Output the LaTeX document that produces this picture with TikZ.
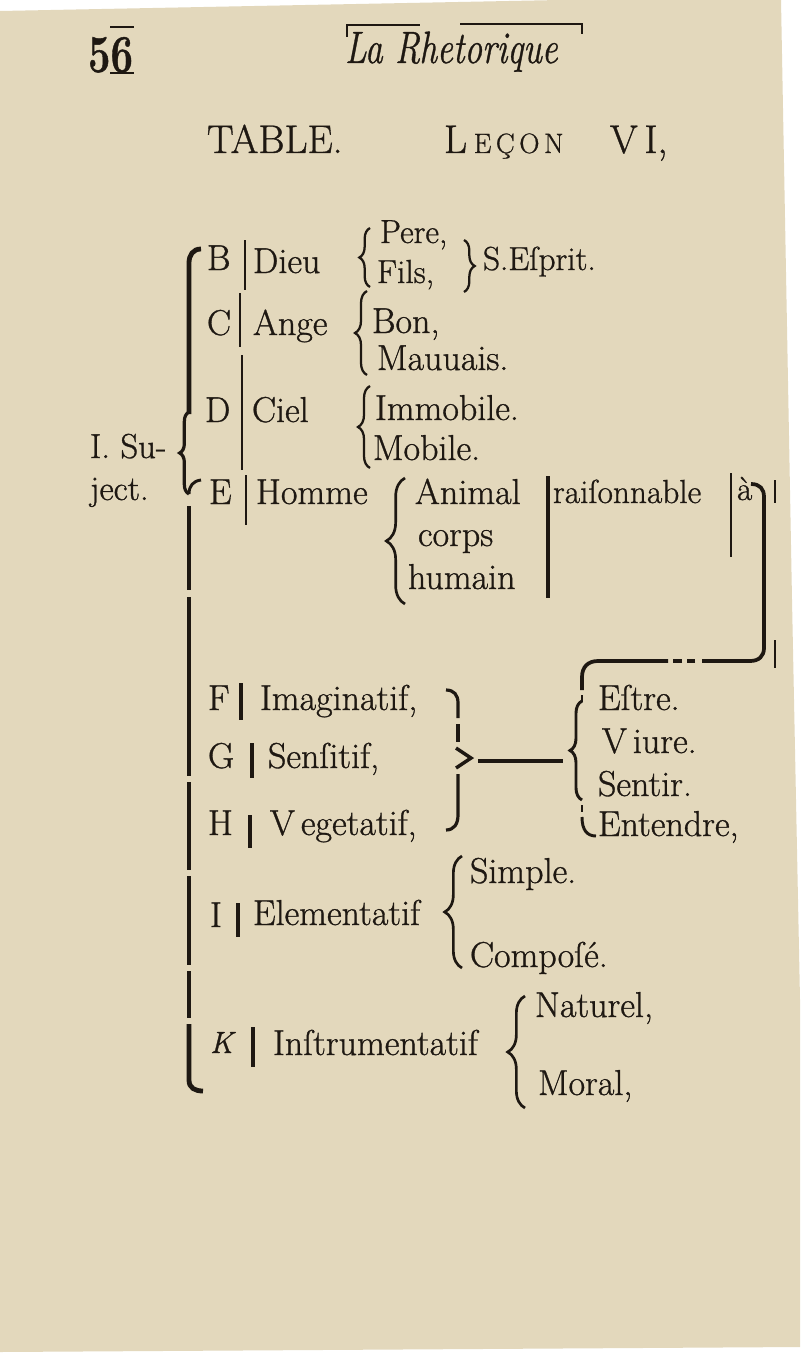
\documentclass[tikz,border=0pt]{standalone}
\usepackage{fontspec}
\setmainfont{Latin Modern Roman}[FakeBold=0.9]
\usetikzlibrary{decorations.pathreplacing}
\definecolor{paper}{RGB}{227,216,188}
\definecolor{ink}{RGB}{30,24,18}
\begin{document}
\begin{tikzpicture}[x=0.75pt,y=-0.75pt,
  t/.style={anchor=base west, inner sep=0pt, outer sep=0pt, text=ink, font=\fontsize{27}{30}\selectfont},
  ts/.style={t, font=\fontsize{25}{28}\selectfont},
  rule/.style={draw=ink, line width=3.6pt, line cap=butt},
  hbar/.style={draw=ink, line width=2.8pt, line cap=butt},
  bar/.style={draw=ink, line width=1.2pt},
  sbar/.style={draw=ink, line width=3pt},
  brc/.style={draw=ink, line width=1.7pt, decorate, decoration={brace, amplitude=#1}}]
\useasboundingbox (0,0) rectangle (800,1359);
\fill[white] (0,0) rectangle (800,1359);
\fill[paper] (0,11) -- (560,0) -- (781,0) -- (792,600) -- (800,1000) -- (800,1347) -- (0,1352) -- cycle;

% header
\node[t, font=\bfseries\fontsize{40}{42}\selectfont] (page) at (88,72) {\scalebox{0.75}[1]{56}};
\draw[bar, line width=1.4pt] (110,27) -- (134,27);
\draw[bar, line width=1.4pt] (110,73) -- (134,73);
\node[t, font=\itshape\fontsize{34}{36}\selectfont] (head) at (345,63) {\scalebox{0.78}[1]{La Rhetorique}};
\draw[bar, line width=1.6pt] (347,37) -- (347,25) -- (420,25);
\draw[bar, line width=1.6pt] (460,24) -- (582,24) -- (582,34);

% title
\node[t, font=\fontsize{30}{32}\selectfont] (table) at (207,153) {TABLE.};
\node[t, font=\fontsize{30}{32}\selectfont] (lecon) at (444,153) {L\,{\fontsize{21}{24}\selectfont E\,Ç\,O\,N}};
\node[t, font=\fontsize{30}{32}\selectfont] (six) at (610,153) {V\,I,};

% left label
\node[t, font=\fontsize{26}{28}\selectfont] (su) at (90,458) {I. Su-};
\node[t, font=\fontsize{26}{28}\selectfont] (ject) at (90,500) {ject.};

% main left rule with brace
\draw[rule] (201,249) .. controls (193,249) and (189,255) .. (189,263) -- (189,414);
\draw[brc=7pt, line width=2.4pt] (189,494) -- (189,412);
\draw[draw=ink, line width=2.2pt] (189,494) .. controls (189,486) and (193,481) .. (201,480);
\draw[rule] (189,506) -- (189,590);
\draw[rule] (189,597) -- (189,776);
\draw[rule] (189,782) -- (189,870);
\draw[rule] (189,876) -- (189,965);
\draw[rule] (189,971) -- (189,1018);
\draw[rule] (189,1024) -- (189,1080) .. controls (189,1088) and (195,1091) .. (203,1091);

% B row
\node[t] (B) at (207,270) {B};
\draw[bar] (245,240) -- (245,290);
\node[t] (dieu) at (253,273) {Dieu};
\draw[brc=8pt] (370,287) -- (370,228);
\node[ts] (pere) at (380,243) {Pere,};
\node[ts] (fils) at (377,283) {Fils,};
\draw[brc=8pt] (464,240) -- (464,292);
\node[ts] (esprit) at (483,270) {S.Eſprit.};

% C row
\node[t] (C) at (207,335) {C};
\draw[bar] (240,293) -- (240,347);
\node[t] (ange) at (253,335) {Ange};
\draw[brc=9pt] (367,375) -- (367,291);
\node[t] (bon) at (372,333) {Bon,};
\node[t] (mauuais) at (377,370) {Mauuais.};

% D row
\node[t] (D) at (205,422) {D};
\draw[bar] (242,355) -- (242,470);
\node[t] (ciel) at (252,422) {Ciel};
\draw[brc=9pt] (370,468) -- (370,386);
\node[t] (immobile) at (375,420) {Immobile.};
\node[t] (mobile) at (373,460) {Mobile.};

% E row
\node[t] (E) at (209,504) {E};
\draw[bar] (246,475) -- (246,525);
\node[t] (homme) at (256,504) {Homme};
\draw[brc=14pt, line width=2pt] (405,604) -- (405,478);
\node[t] (animal) at (415,504) {Animal};
\node[t] (corps) at (418,546) {corps};
\node[t] (humain) at (408,589) {humain};
\draw[sbar, line width=2.4pt] (548,476) -- (548,598);
\node[ts] (raison) at (553,503) {raiſonnable};
\draw[bar, line width=1.4pt] (731,473) -- (731,557);
\node[ts] (a) at (737,500) {à};
\draw[bar, line width=0.9pt] (775,480) -- (775,503);
\draw[bar, line width=0.9pt] (775,640) -- (775,668);

% right return connector
\draw[hbar] (751,484) .. controls (760,484) and (764,489) .. (764,497) -- (764,648) .. controls (764,656) and (759,661) .. (750,661) -- (702,661);
\draw[hbar] (695,661) -- (687,661);
\draw[hbar] (682,661) -- (673,661);
\draw[hbar] (668,661) -- (598,661) .. controls (588,661) and (582,667) .. (582,677) -- (582,690);
\draw[hbar, line width=2pt] (582,695) -- (582,702);
\draw[brc=9pt, line width=2.2pt] (582,800) -- (582,701);
\draw[hbar, line width=2pt] (582,805) -- (582,812);
\draw[hbar, line width=2.2pt] (582,817) .. controls (582,830) and (587,836) .. (596,836);

% F G H rows
\node[t] (F) at (208,710) {F};
\draw[sbar] (241,683) -- (241,720);
\node[t] (imag) at (260,710) {Imaginatif,};
\node[t] (G) at (208,768) {G};
\draw[sbar] (252,743) -- (252,778);
\node[t] (sens) at (268,768) {Senſitif,};
\node[t] (H) at (208,835) {H};
\draw[sbar] (250,815) -- (250,848);
\node[t] (veget) at (270,835) {V\,egetatif,};
\draw[hbar, line width=2.4pt] (446,690) .. controls (454,690) and (458,695) .. (458,703) -- (458,718);
\draw[hbar, line width=2.4pt] (458,724) -- (458,742);
\draw[hbar, line width=2.6pt] (456,748) -- (471,758) -- (456,768);
\draw[hbar, line width=2.4pt] (458,774) -- (458,815) .. controls (458,824) and (454,830) .. (446,830);
\draw[hbar] (478,761) -- (563,761);
\node[t] (estre) at (598,710) {Eſtre.};
\node[t] (viure) at (602,753) {V\,iure.};
\node[t] (sentir) at (598,796) {Sentir.};
\node[t] (entendre) at (598,836) {Entendre,};

% I row
\node[t] (I) at (210,927) {I};
\draw[sbar] (238,903) -- (238,937);
\node[t] (elem) at (253,925) {Elementatif};
\draw[brc=13pt, line width=2pt] (462,968) -- (462,856);
\node[t] (simple) at (470,883) {Simple.};
\node[t] (compose) at (470,967) {Compoſé.};

% K row
\node[t, font=\itshape\fontsize{23}{26}\selectfont] (K) at (210,1053) {K};
\draw[sbar] (253,1027) -- (253,1067);
\node[t] (instr) at (273,1055) {Inſtrumentatif};
\draw[brc=13pt, line width=2pt] (525,1108) -- (525,996);
\node[t] (naturel) at (535,1017) {Naturel,};
\node[t] (moral) at (538,1095) {Moral,};
\end{tikzpicture}
\end{document}
